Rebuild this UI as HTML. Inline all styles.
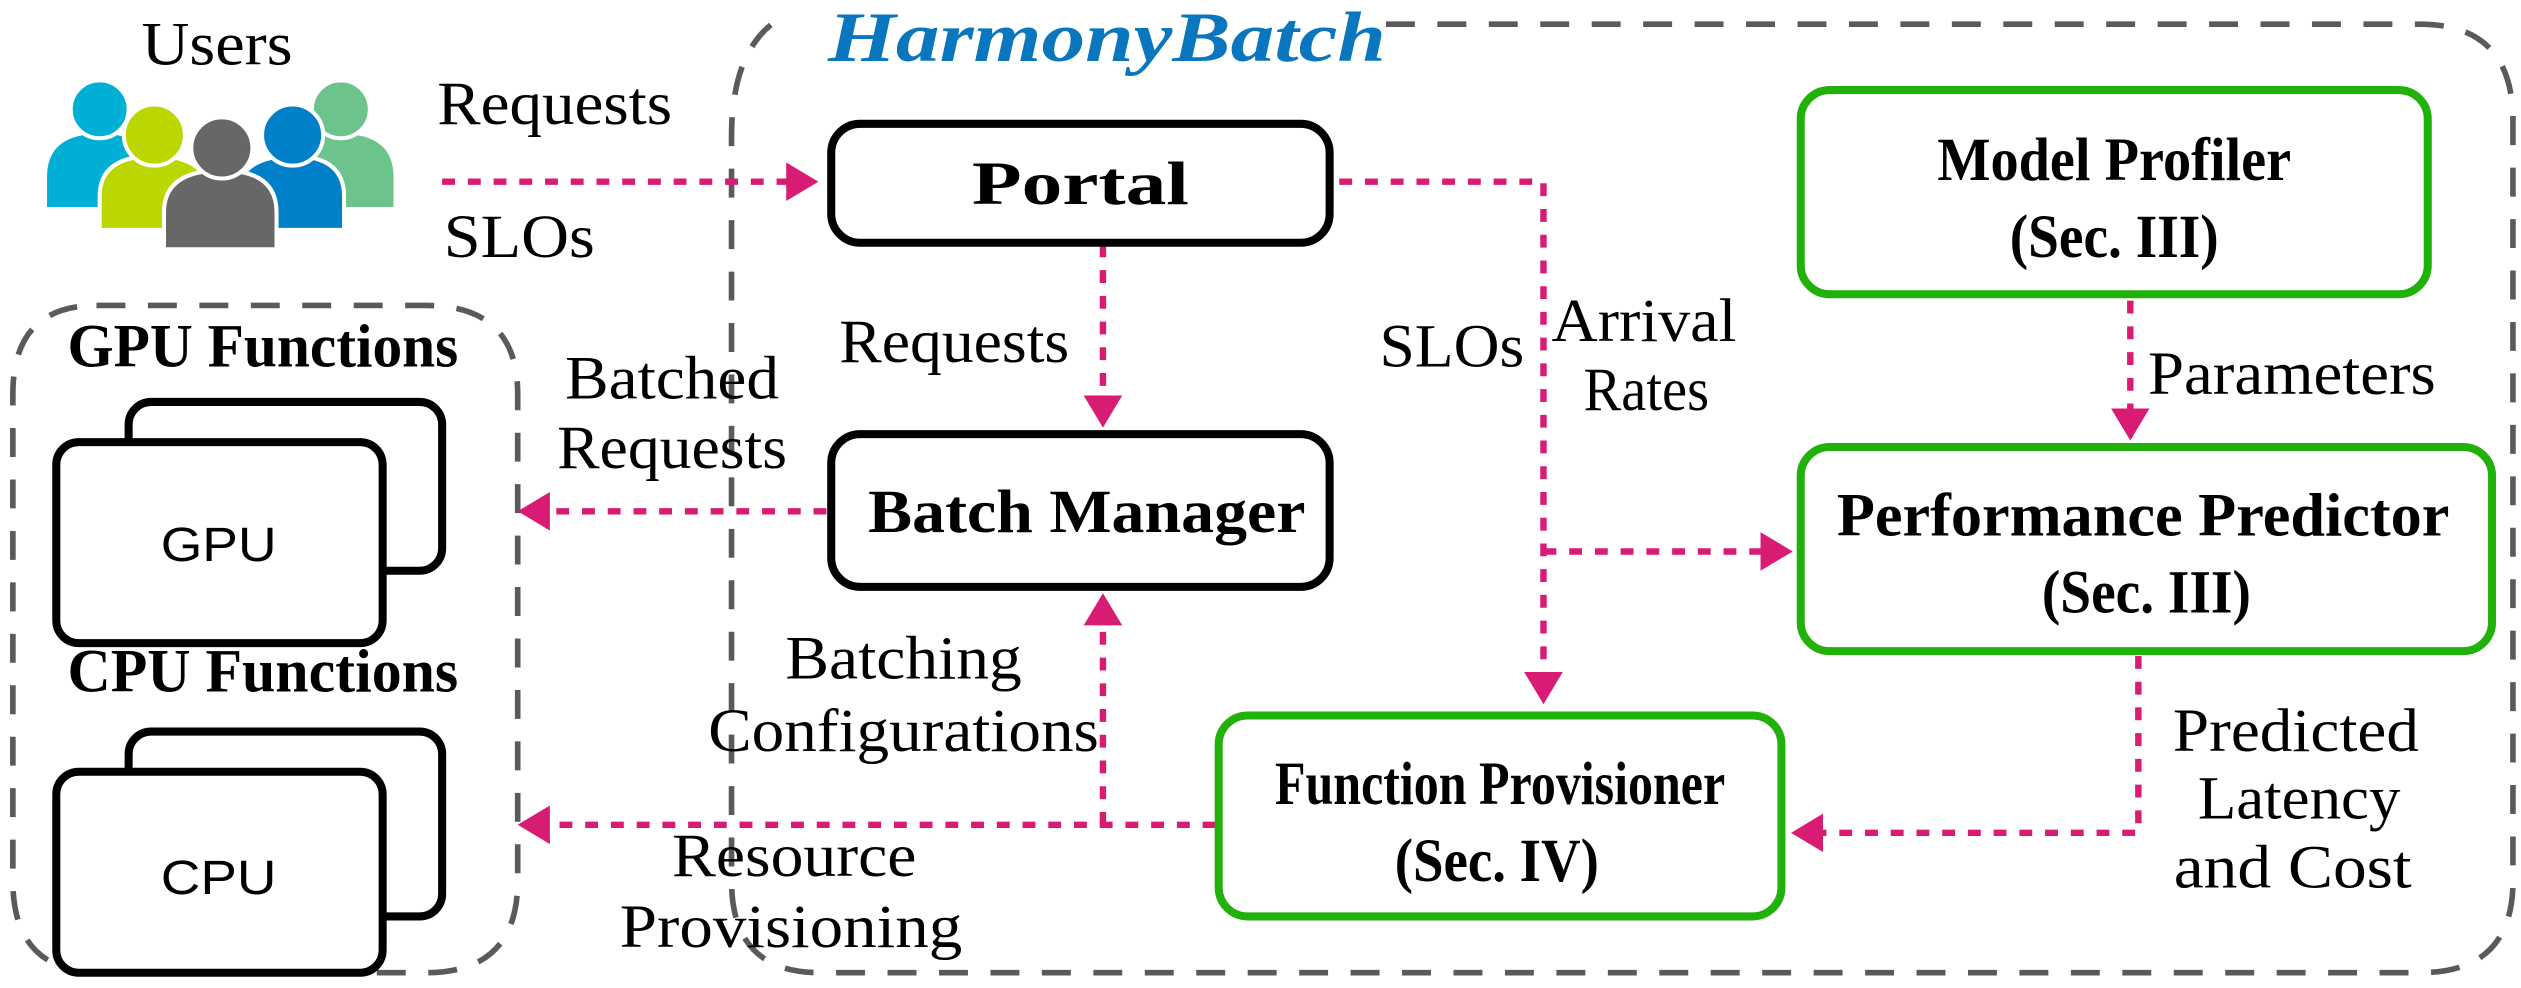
<!DOCTYPE html>
<html><head><meta charset="utf-8"><style>
html,body{margin:0;padding:0;background:#fff;}
svg{display:block;}
text{font-family:"Liberation Serif","Times New Roman",Times,serif;fill:#000;}
.l{font-size:38px;}
.b{font-size:38px;font-weight:bold;}
.s{font-family:"Liberation Sans",Arial,sans-serif;font-size:30px;}
</style></head><body>
<svg width="2521" height="988" viewBox="0 0 1568 614.5" xmlns="http://www.w3.org/2000/svg">
<defs>
<marker id="a" markerWidth="6" markerHeight="6" refX="4" refY="3" orient="auto" markerUnits="strokeWidth">
<path d="M0,0 L5,3 L0,6 z" fill="#d81b73"/></marker>
</defs>
<path d="M862,15 L1505,15 Q1563,15 1563,75 L1563,548 Q1563,605 1505,605 L510,605 Q455,605 455,548 L455,85 Q455,35 480,15" fill="none" stroke="#5a5a5a" stroke-width="3.5" stroke-dasharray="18 14"/>
<path d="M60,190 L265,190 Q322,190 322,245 L322,548 Q322,605 265,605 L63,605 Q8,605 8,548 L8,245 Q8,190 60,190" fill="none" stroke="#5a5a5a" stroke-width="3.5" stroke-dasharray="18 14"/>
<text x="515" y="38" font-size="44" font-weight="bold" font-style="italic" style="fill:#0a76bd" textLength="347" lengthAdjust="spacingAndGlyphs">HarmonyBatch</text>

<g stroke="#fff" stroke-width="2.5">
<path d="M28,130 L28,110 Q28,82 62,82 Q98,82 98,110 L98,130 Z" fill="#00b0d4"/>
<circle cx="62" cy="68" r="18" fill="#00b0d4"/>
<path d="M178,130 L178,110 Q178,82 212,82 Q246,82 246,110 L246,130 Z" fill="#6cc48c"/>
<circle cx="212" cy="68" r="18" fill="#6cc48c"/>
<path d="M62,143 L62,122 Q62,97 96,97 Q130,97 130,122 L130,143 Z" fill="#bcd600"/>
<circle cx="96" cy="84" r="19" fill="#bcd600"/>
<path d="M148,143 L148,122 Q148,97 182,97 Q214,97 214,122 L214,143 Z" fill="#0080c8"/>
<circle cx="182" cy="84" r="19" fill="#0080c8"/>
<path d="M102,155 L102,132 Q102,106 138,106 Q172,106 172,132 L172,155 Z" fill="#676767"/>
<circle cx="138" cy="92" r="19" fill="#676767"/>
</g>
<text class="l" x="135" y="40" text-anchor="middle" textLength="94" lengthAdjust="spacingAndGlyphs">Users</text>
<text class="l" x="272" y="77" textLength="146" lengthAdjust="spacingAndGlyphs">Requests</text>
<text class="l" x="276" y="160" textLength="94" lengthAdjust="spacingAndGlyphs">SLOs</text>

<text class="b" x="42" y="228" textLength="243" lengthAdjust="spacingAndGlyphs">GPU Functions</text>
<rect x="80" y="250" width="195" height="105" rx="14" fill="#fff" stroke="#000" stroke-width="5"/>
<rect x="35" y="275" width="203" height="125" rx="14" fill="#fff" stroke="#000" stroke-width="5"/>
<text class="s" x="136" y="349" text-anchor="middle" textLength="72" lengthAdjust="spacingAndGlyphs">GPU</text>
<text class="b" x="42" y="430" textLength="243" lengthAdjust="spacingAndGlyphs">CPU Functions</text>
<rect x="80" y="455" width="195" height="115" rx="14" fill="#fff" stroke="#000" stroke-width="5"/>
<rect x="35" y="480" width="203" height="125" rx="14" fill="#fff" stroke="#000" stroke-width="5"/>
<text class="s" x="136" y="556" text-anchor="middle" textLength="72" lengthAdjust="spacingAndGlyphs">CPU</text>

<g stroke="#d81b73" stroke-width="4" stroke-dasharray="8 8" fill="none">
<path d="M275,113 L505,113" marker-end="url(#a)"/>
<path d="M686,152 L686,262" marker-end="url(#a)"/>
<path d="M514,318 L326,318" marker-end="url(#a)"/>
<path d="M756,513 L326,513" marker-end="url(#a)"/>
<path d="M686,513 L686,373" marker-end="url(#a)"/>
<path d="M833,113 L960,113 L960,434" marker-end="url(#a)"/>
<path d="M960,343 L1111,343" marker-end="url(#a)"/>
<path d="M1325,187 L1325,270" marker-end="url(#a)"/>
<path d="M1330,408 L1330,518 L1118,518" marker-end="url(#a)"/>
</g>

<rect x="517" y="77" width="310" height="74" rx="18" fill="#fff" stroke="#000" stroke-width="5"/>
<text class="b" x="672" y="127" text-anchor="middle" textLength="135" lengthAdjust="spacingAndGlyphs">Portal</text>
<rect x="517" y="270" width="310" height="95" rx="18" fill="#fff" stroke="#000" stroke-width="5"/>
<text class="b" x="676" y="331" text-anchor="middle" textLength="272" lengthAdjust="spacingAndGlyphs">Batch Manager</text>
<rect x="1120" y="56" width="390" height="127" rx="18" fill="#fff" stroke="#22b00a" stroke-width="5"/>
<text class="b" x="1315" y="112" text-anchor="middle" textLength="220" lengthAdjust="spacingAndGlyphs">Model Profiler</text>
<text class="b" x="1315" y="160" text-anchor="middle" textLength="130" lengthAdjust="spacingAndGlyphs">(Sec. III)</text>
<rect x="1120" y="278" width="430" height="127" rx="18" fill="#fff" stroke="#22b00a" stroke-width="5"/>
<text class="b" x="1333" y="333" text-anchor="middle" textLength="381" lengthAdjust="spacingAndGlyphs">Performance Predictor</text>
<text class="b" x="1335" y="381" text-anchor="middle" textLength="130" lengthAdjust="spacingAndGlyphs">(Sec. III)</text>
<rect x="758" y="445" width="350" height="125" rx="18" fill="#fff" stroke="#22b00a" stroke-width="5"/>
<text class="b" x="933" y="500" text-anchor="middle" textLength="280" lengthAdjust="spacingAndGlyphs">Function Provisioner</text>
<text class="b" x="931" y="548" text-anchor="middle" textLength="127" lengthAdjust="spacingAndGlyphs">(Sec. IV)</text>

<text class="l" x="522" y="225" textLength="143" lengthAdjust="spacingAndGlyphs">Requests</text>
<text class="l" x="418" y="248" text-anchor="middle" textLength="133" lengthAdjust="spacingAndGlyphs">Batched</text>
<text class="l" x="418" y="291" text-anchor="middle" textLength="143" lengthAdjust="spacingAndGlyphs">Requests</text>
<text class="l" x="858" y="228" textLength="90" lengthAdjust="spacingAndGlyphs">SLOs</text>
<text class="l" x="965" y="212" textLength="115" lengthAdjust="spacingAndGlyphs">Arrival</text>
<text class="l" x="985" y="255" textLength="78" lengthAdjust="spacingAndGlyphs">Rates</text>
<text class="l" x="1336" y="245" textLength="179" lengthAdjust="spacingAndGlyphs">Parameters</text>
<text class="l" x="562" y="422" text-anchor="middle" textLength="147" lengthAdjust="spacingAndGlyphs">Batching</text>
<text class="l" x="562" y="467" text-anchor="middle" textLength="243" lengthAdjust="spacingAndGlyphs">Configurations</text>
<text class="l" x="494" y="545" text-anchor="middle" textLength="152" lengthAdjust="spacingAndGlyphs">Resource</text>
<text class="l" x="492" y="589" text-anchor="middle" textLength="213" lengthAdjust="spacingAndGlyphs">Provisioning</text>
<text class="l" x="1428" y="467" text-anchor="middle" textLength="153" lengthAdjust="spacingAndGlyphs">Predicted</text>
<text class="l" x="1430" y="509" text-anchor="middle" textLength="126" lengthAdjust="spacingAndGlyphs">Latency</text>
<text class="l" x="1426" y="552" text-anchor="middle" textLength="148" lengthAdjust="spacingAndGlyphs">and Cost</text>
</svg>
</body></html>
